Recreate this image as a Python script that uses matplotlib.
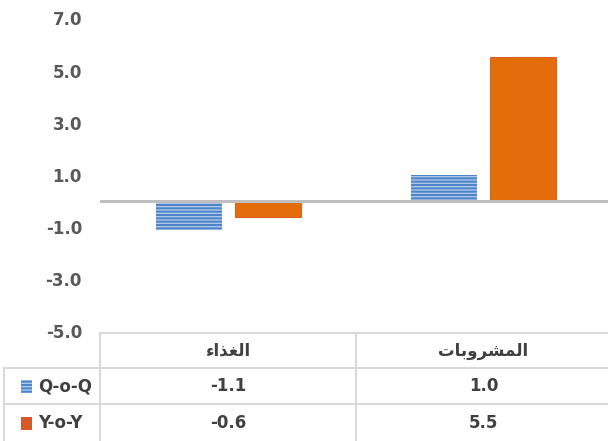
import matplotlib
matplotlib.use("Agg")
import matplotlib.pyplot as plt
import matplotlib.transforms as mtransforms
from matplotlib.patches import Rectangle

# data
categories = ["الغذاء", "المشروبات"]
series_names = ["Q-o-Q", "Y-o-Y"]
qoq = [-1.1, 1.0]
yoy = [-0.6, 5.5]
y_ticks = [-5, -3, -1, 1, 3, 5, 7]

# simple Arabic shaping (matplotlib has no shaping engine)
FORMS = {
    "ا": ("\uFE8D", "\uFE8E", None, None),
    "ل": ("\uFEDD", "\uFEDE", "\uFEDF", "\uFEE0"),
    "غ": ("\uFECD", "\uFECE", "\uFECF", "\uFED0"),
    "ذ": ("\uFEAB", "\uFEAC", None, None),
    "ء": ("\uFE80", None, None, None),
    "م": ("\uFEE1", "\uFEE2", "\uFEE3", "\uFEE4"),
    "ش": ("\uFEB5", "\uFEB6", "\uFEB7", "\uFEB8"),
    "ر": ("\uFEAD", "\uFEAE", None, None),
    "و": ("\uFEED", "\uFEEE", None, None),
    "ب": ("\uFE8F", "\uFE90", "\uFE91", "\uFE92"),
    "ت": ("\uFE95", "\uFE96", "\uFE97", "\uFE98"),
}


def shape(word):
    out = []
    for i, ch in enumerate(word):
        iso, fin, ini, med = FORMS[ch]
        prev_ok = i > 0 and FORMS[word[i - 1]][2] is not None and fin is not None
        next_ok = (i < len(word) - 1 and ini is not None
                   and FORMS[word[i + 1]][1] is not None)
        if prev_ok and next_ok:
            out.append(med)
        elif prev_ok:
            out.append(fin)
        elif next_ok:
            out.append(ini)
        else:
            out.append(iso)
    return "".join(reversed(out))


W, H = 608, 441
fig = plt.figure(figsize=(W / 100, H / 100), dpi=100)

ax_top, ax_bot = 18.3, 331.5
ax = fig.add_axes([100 / W, 1 - ax_bot / H, 1 - 100 / W, (ax_bot - ax_top) / H])

x = list(range(len(categories)))
off = 0.155
bw = 0.259
blue_face = "#B3CCEC"
blue_line = "#4F84C9"
orange = "#E46C0A"

plt.rcParams["hatch.linewidth"] = 1.5
ax.bar([i - off for i in x], qoq, bw, color=blue_face, edgecolor=blue_line,
       hatch="-----", linewidth=0, zorder=2)
ax.bar([i + off for i in x], yoy, bw, color=orange, edgecolor="#D9622A",
       linewidth=0.8, zorder=2)
ax.axhline(0, color="#BFBFBF", lw=2.2, zorder=3)

ax.set_xlim(-0.504, 1.488)
ax.set_ylim(-5, 7)
ax.set_yticks(y_ticks)
ax.set_yticklabels([f"{v:.1f}" for v in y_ticks], fontsize=12,
                   fontweight="bold", color="#595959", family="DejaVu Sans")
ax.tick_params(axis="y", length=0, pad=13)
ax.set_xticks([])
for s in ax.spines.values():
    s.set_visible(False)

# data table below
line_c = "#D9D9D9"
tr = mtransforms.blended_transform_factory(ax.transData, fig.transFigure)
fy = lambda py: 1 - py / H
rows = [333, 368, 404, 441]
left_edge, right_edge = -0.504, 1.488

def hline(py, x0_data=None):
    if x0_data is None:
        fig.add_artist(plt.Line2D([4 / W, 1], [fy(py)] * 2, color=line_c, lw=1.5))
    else:
        fig.add_artist(plt.Line2D([x0_data, right_edge], [fy(py)] * 2,
                                  color=line_c, lw=1.5, transform=tr))

hline(rows[0], x0_data=left_edge)
hline(rows[1])
hline(rows[2])
for xd in [left_edge, 0.5]:
    fig.add_artist(plt.Line2D([xd, xd], [fy(rows[0]), fy(rows[3])],
                              color=line_c, lw=1.5, transform=tr))
fig.add_artist(plt.Line2D([4 / W, 4 / W], [fy(rows[1]), fy(rows[3])],
                          color=line_c, lw=1.5))

txt = dict(fontsize=12, fontweight="bold", color="#404040",
           ha="center", va="center", family="DejaVu Sans")
for i, cat in enumerate(categories):
    fig.text(i, fy((rows[0] + rows[1]) / 2), shape(cat), transform=tr, **txt)
for r, vals in enumerate([qoq, yoy]):
    cy = fy((rows[r + 1] + rows[r + 2]) / 2)
    for i, v in enumerate(vals):
        fig.text(i, cy, f"{v:.1f}", transform=tr, **txt)

# legend keys in the table
key_styles = [dict(facecolor=blue_face, edgecolor=blue_line, hatch="-----", lw=0),
              dict(facecolor="#D5582B", edgecolor="#D5582B", lw=0)]
for r, name in enumerate(series_names):
    cy = (rows[r + 1] + rows[r + 2]) / 2
    fig.add_artist(Rectangle((21 / W, fy(cy + 7)), 11 / W, 13 / H,
                             transform=fig.transFigure, **key_styles[r]))
    fig.text(38 / W, fy(cy), name, fontsize=12, fontweight="bold",
             color="#404040", ha="left", va="center", family="DejaVu Sans")

fig.savefig("out.png", dpi=100)
